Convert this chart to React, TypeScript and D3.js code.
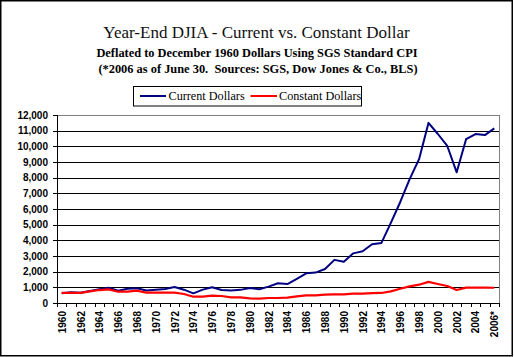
import React from "react";
import * as d3 from "d3";

const years: string[] = d3.range(1960, 2007).map((y) => String(y));
const tickLabels: string[] = years.map((y, i) => (i % 2 === 0 ? (y === "2006" ? "2006*" : y) : ""));

const currentDollars: number[] = [
  616, 680, 652, 763, 874, 969, 786, 905, 944, 800,
  839, 890, 1020, 851, 616, 852, 1005, 831, 805, 839,
  964, 875, 1047, 1259, 1212, 1547, 1896, 1939, 2169, 2753,
  2634, 3169, 3301, 3754, 3834, 5117, 6448, 7908, 9181, 11497,
  10787, 10022, 8342, 10454, 10783, 10718, 11150,
];

const constantDollars: number[] = [
  650, 650, 650, 745, 828, 870, 720, 725, 785, 660,
  656, 656, 660, 573, 403, 410, 465, 446, 363, 360,
  297, 274, 318, 320, 340, 425, 490, 490, 530, 554,
  554, 594, 600, 636, 640, 745, 912, 1063, 1168, 1350,
  1210, 1083, 830, 980, 980, 980, 975,
];

const yTicks: number[] = d3.range(0, 12001, 1000);
const titleLines: string[] = [
  "Year-End DJIA - Current vs. Constant Dollar",
  "Deflated to December 1960 Dollars Using SGS Standard CPI",
  "(*2006 as of June 30.  Sources: SGS, Dow Jones & Co., BLS)",
];
const seriesNames: string[] = ["Current Dollars", "Constant Dollars"];

export default function App() {
  const W = 514, H = 357;
  const left = 57, right = 499, top = 115, bottom = 303;
  const x = d3.scaleBand<string>().domain(years).range([left, right]).padding(0);
  const y = d3.scaleLinear().domain([0, 12000]).range([bottom, top]);
  const cx = (i: number) => (x(years[i]) as number) + x.bandwidth() / 2;
  const line = d3.line<number>().x((_, i) => cx(i)).y((d) => y(d));
  const serif = "'Times New Roman', 'Liberation Serif', serif";
  const sans = "Arial, 'Liberation Sans', sans-serif";
  const fmt = d3.format(",");
  return (
    <svg width={W} height={H} style={{ position: "absolute", left: 0, top: 0 }}>
      <rect x={0} y={0} width={W} height={H} fill="#fff" />
      <rect x={0.75} y={0.75} width={511.5} height={355} fill="none" stroke="#000" strokeWidth={1.5} />
      <text x={256.5} y={38} textAnchor="middle" fontFamily={serif} fontSize={17} fill="#111">{titleLines[0]}</text>
      <text x={257} y={57} textAnchor="middle" fontFamily={serif} fontSize={12.4} fontWeight="bold" fill="#000">{titleLines[1]}</text>
      <text x={258} y={73} textAnchor="middle" fontFamily={serif} fontSize={12.4} fontWeight="bold" fill="#000" style={{ whiteSpace: "pre" }}>{titleLines[2]}</text>
      {/* legend */}
      <rect x={133.5} y={86.5} width={228} height={19.5} fill="#fff" stroke="#000" strokeWidth={1} />
      <line x1={140} x2={166} y1={96} y2={96} stroke="#000080" strokeWidth={2} />
      <text x={168.5} y={100} fontFamily={serif} fontSize={12.2} fill="#000">{seriesNames[0]}</text>
      <line x1={250.5} x2={277} y1={96} y2={96} stroke="#ff0000" strokeWidth={2} />
      <text x={279} y={100} fontFamily={serif} fontSize={12.2} fill="#000">{seriesNames[1]}</text>
      {/* gridlines */}
      {yTicks.slice(1, -1).map((t) => (
        <line key={t} x1={left} x2={right} y1={Math.round(y(t)) + 0.5} y2={Math.round(y(t)) + 0.5} stroke="#000" strokeWidth={1} />
      ))}
      {/* plot border top/right gray */}
      <line x1={left} x2={right + 0.5} y1={top + 0.5} y2={top + 0.5} stroke="#808080" strokeWidth={1} />
      <line x1={right + 0.5} x2={right + 0.5} y1={top} y2={bottom} stroke="#808080" strokeWidth={1} />
      {/* axes */}
      <line x1={left + 0.5} x2={left + 0.5} y1={top} y2={bottom + 0.5} stroke="#000" strokeWidth={1} />
      <line x1={left} x2={right + 1} y1={bottom + 0.5} y2={bottom + 0.5} stroke="#000" strokeWidth={1} />
      {yTicks.map((t) => (
        <g key={t}>
          <line x1={left - 4} x2={left} y1={Math.round(y(t)) + 0.5} y2={Math.round(y(t)) + 0.5} stroke="#000" />
          <text x={48} y={y(t)} dy="0.35em" textAnchor="end" fontFamily={sans} fontSize={10} fontWeight="bold" fill="#000">{fmt(t)}</text>
        </g>
      ))}
      {years.map((yr) => (
        <line key={yr} x1={Math.round(x(yr) as number) + 0.5} x2={Math.round(x(yr) as number) + 0.5} y1={bottom} y2={bottom + 4} stroke="#000" />
      ))}
      <line x1={right + 0.5} x2={right + 0.5} y1={bottom} y2={bottom + 4} stroke="#000" />
      {tickLabels.map((lab, i) =>
        lab ? (
          <text key={i} transform={`translate(${cx(i) + 0.5},${311}) rotate(-90)`} dy="0.35em" textAnchor="end" fontFamily={sans} fontSize={10} fontWeight="bold" fill="#000">{lab}</text>
        ) : null
      )}
      <path d={line(currentDollars) || ""} fill="none" stroke="#000080" strokeWidth={2} strokeLinejoin="round" />
      <path d={line(constantDollars) || ""} fill="none" stroke="#ff0000" strokeWidth={2.2} strokeLinejoin="round" />
    </svg>
  );
}
